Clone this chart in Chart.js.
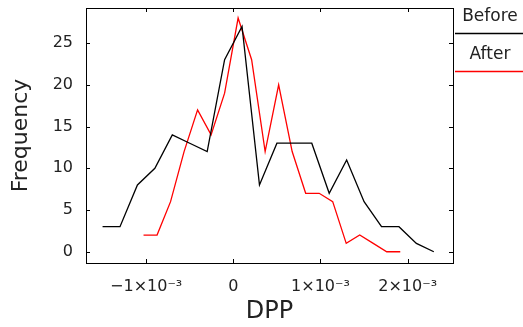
<!DOCTYPE html>
<html>
<head>
<meta charset="utf-8">
<script src="https://cdn.jsdelivr.net/npm/chart.js@4"></script>
<style>
  html, body { margin: 0; padding: 0; background: #fff; }
  #wrap { width: 523px; height: 327px; position: relative; }
</style>
</head>
<body>
<div id="wrap"><canvas id="c"></canvas></div>
<script>
// bin centres (DPP) and counts
const beforeX = [-1.5e-3, -1.3e-3, -1.1e-3, -0.9e-3, -0.7e-3, -0.5e-3, -0.3e-3, -0.1e-3, 0.1e-3, 0.3e-3,
                 0.5e-3, 0.7e-3, 0.9e-3, 1.1e-3, 1.3e-3, 1.5e-3, 1.7e-3, 1.9e-3, 2.1e-3, 2.3e-3];
const beforeY = [3, 3, 8, 10, 14, 13, 12, 23, 27, 8, 13, 13, 13, 7, 11, 6, 3, 3, 1, 0];

const afterX = [-1.03e-3, -0.875e-3, -0.72e-3, -0.565e-3, -0.41e-3, -0.255e-3, -0.1e-3, 0.055e-3, 0.21e-3, 0.365e-3,
                0.52e-3, 0.675e-3, 0.83e-3, 0.985e-3, 1.14e-3, 1.295e-3, 1.45e-3, 1.605e-3, 1.76e-3, 1.915e-3];
const afterY = [2, 2, 6, 12, 17, 14, 19, 28, 23, 12, 20, 12, 7, 7, 6, 1, 2, 1, 0, 0];

const xTicks = [-1e-3, 0, 1e-3, 2e-3];
const xTickLabels = ['\u22121\u00d710\u207b\u00b3', '0', '1\u00d710\u207b\u00b3', '2\u00d710\u207b\u00b3'];
const yTicks = [0, 5, 10, 15, 20, 25];

const textColor = '#222';
const fontFam = '"DejaVu Sans", sans-serif';

// box around the plot, inward ticks on all four sides, and the legend on the right
const framePlugin = {
  id: 'frame',
  afterDraw(chart) {
    const ctx = chart.ctx;
    const a = chart.chartArea;
    const xs = chart.scales.x, ys = chart.scales.y;
    ctx.save();
    ctx.strokeStyle = '#000';
    ctx.lineWidth = 1;
    ctx.strokeRect(a.left + 0.5, a.top + 0.5, a.right - a.left, a.bottom - a.top);
    ctx.beginPath();
    xs.ticks.forEach((t, i) => {
      const px = Math.round(xs.getPixelForTick(i)) + 0.5;
      ctx.moveTo(px, a.bottom); ctx.lineTo(px, a.bottom - 4);
      ctx.moveTo(px, a.top); ctx.lineTo(px, a.top + 4);
    });
    ys.ticks.forEach((t, i) => {
      const py = Math.round(ys.getPixelForTick(i)) + 0.5;
      ctx.moveTo(a.left, py); ctx.lineTo(a.left + 4, py);
      ctx.moveTo(a.right, py); ctx.lineTo(a.right - 4, py);
    });
    ctx.stroke();

    // legend
    ctx.font = '17px ' + fontFam;
    ctx.fillStyle = textColor;
    ctx.textBaseline = 'middle';
    chart.data.datasets.forEach((ds, i) => {
      const y0 = 17 + i * 38;
      ctx.textAlign = 'center';
      ctx.fillText(ds.label, 490, y0);
      ctx.strokeStyle = ds.borderColor;
      ctx.lineWidth = 1.3;
      ctx.beginPath();
      ctx.moveTo(455, y0 + 16.5);
      ctx.lineTo(523, y0 + 16.5);
      ctx.stroke();
    });
    ctx.restore();
  }
};

new Chart(document.getElementById('c'), {
  type: 'line',
  data: {
    datasets: [
      {
        label: 'Before',
        data: beforeX.map((x, i) => ({ x: x, y: beforeY[i] })),
        borderColor: '#000000',
        borderWidth: 1.3,
        pointRadius: 0,
        tension: 0,
        fill: false
      },
      {
        label: 'After',
        data: afterX.map((x, i) => ({ x: x, y: afterY[i] })),
        borderColor: '#ff0000',
        borderWidth: 1.3,
        pointRadius: 0,
        tension: 0,
        fill: false
      }
    ]
  },
  options: {
    responsive: true,
    maintainAspectRatio: false,
    animation: false,
    layout: { padding: { left: 0, right: 70, top: 8, bottom: 0 } },
    plugins: {
      legend: { display: false },
      tooltip: { enabled: false }
    },
    scales: {
      x: {
        type: 'linear',
        min: -1.69e-3,
        max: 2.52e-3,
        afterBuildTicks: (s) => { s.ticks = xTicks.map(v => ({ value: v })); },
        afterFit: (s) => { s.height = 64; s.paddingLeft = 0; s.paddingRight = 0; },
        grid: { display: false },
        border: { display: false },
        ticks: {
          padding: 6,
          color: textColor,
          font: { family: fontFam, size: 16 },
          maxRotation: 0,
          callback: (v) => xTickLabels[xTicks.indexOf(v)]
        },
        title: {
          display: true,
          text: 'DPP',
          color: textColor,
          font: { family: fontFam, size: 24 },
          padding: { top: 0, bottom: 1 }
        }
      },
      y: {
        min: -1.35,
        max: 29.2,
        afterBuildTicks: (s) => { s.ticks = yTicks.map(v => ({ value: v })); },
        afterFit: (s) => { s.width = 86; s.paddingTop = 0; s.paddingBottom = 0; },
        grid: { display: false },
        border: { display: false },
        ticks: {
          padding: 5,
          color: textColor,
          font: { family: fontFam, size: 16 }
        },
        title: {
          display: true,
          text: 'Frequency',
          color: textColor,
          font: { family: fontFam, size: 22 },
          padding: { top: 8, bottom: 0 }
        }
      }
    }
  },
  plugins: [framePlugin]
});
</script>
</body>
</html>
